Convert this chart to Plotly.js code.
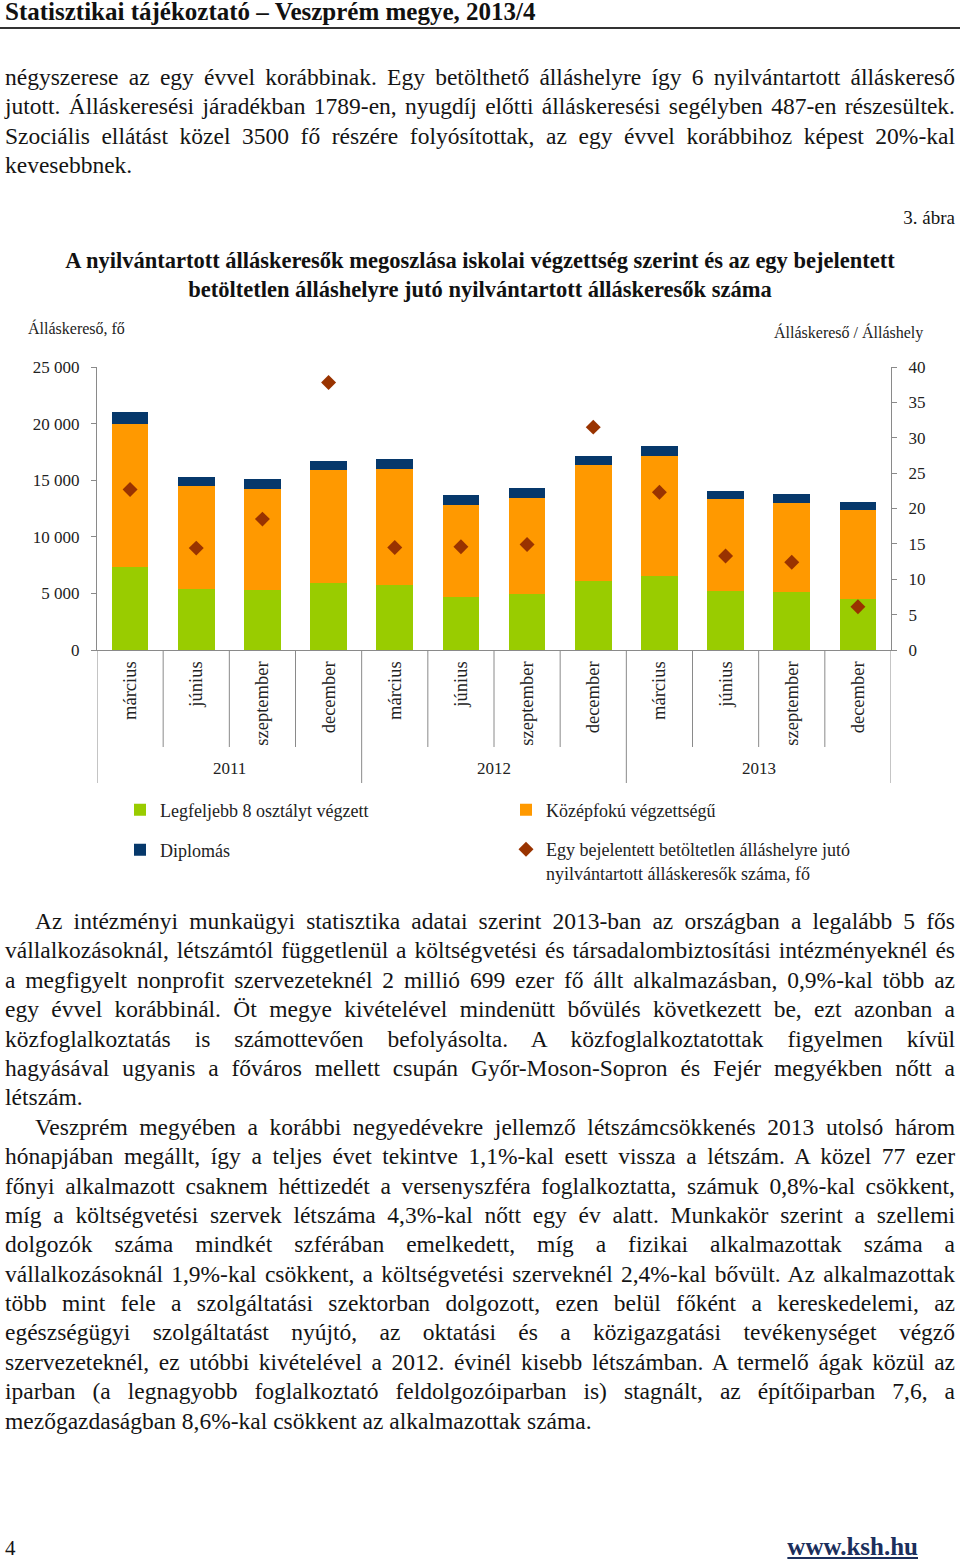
<!DOCTYPE html>
<html><head><meta charset="utf-8">
<script src="https://cdn.plot.ly/plotly-3.0.1.min.js"></script>
<style>
html,body{margin:0;padding:0;background:#fff;}
body{width:960px;height:1562px;position:relative;overflow:hidden;font-family:"Liberation Serif",serif;color:#141414;}
#hdr{position:absolute;left:5px;top:-2px;font-weight:bold;font-size:25px;line-height:28px;white-space:nowrap;color:#111}
#rule{position:absolute;left:0;top:27px;width:960px;height:2px;background:#333}
.para{position:absolute;left:5px;width:950px;font-size:23.5px;line-height:29.4px}
.ln{white-space:nowrap;height:29.4px;overflow:visible}
.ind{padding-left:30px}
#abra{position:absolute;right:5px;top:206px;font-size:19px;line-height:24px}
#chart{position:absolute;left:0;top:200px;width:960px;height:690px}
#pg{position:absolute;left:5px;top:1534px;font-size:21px;line-height:28px}
#ksh{position:absolute;right:42px;top:1533px;font-size:25px;line-height:28px;font-weight:bold;color:#1c2f5c;text-decoration:underline}
</style>
</head>
<body>
<div id="hdr">Statisztikai tájékoztató – Veszprém megye, 2013/4</div>
<div id="rule"></div>

<div class="para" style="top:63px">
<div class="ln j"><span>négyszerese az egy évvel korábbinak. Egy betölthető álláshelyre így 6 nyilvántartott álláskereső</span></div>
<div class="ln j"><span>jutott. Álláskeresési járadékban 1789-en, nyugdíj előtti álláskeresési segélyben 487-en részesültek.</span></div>
<div class="ln j"><span>Szociális ellátást közel 3500 fő részére folyósítottak, az egy évvel korábbihoz képest 20%-kal</span></div>
<div class="ln"><span>kevesebbnek.</span></div>
</div>

<div id="abra">3. ábra</div>
<div id="chart"></div>

<div class="para" style="top:907px">
<div class="ln j ind"><span>Az intézményi munkaügyi statisztika adatai szerint 2013-ban az országban a legalább 5 fős</span></div>
<div class="ln j"><span>vállalkozásoknál, létszámtól függetlenül a költségvetési és társadalombiztosítási intézményeknél és</span></div>
<div class="ln j"><span>a megfigyelt nonprofit szervezeteknél 2 millió 699 ezer fő állt alkalmazásban, 0,9%-kal több az</span></div>
<div class="ln j"><span>egy évvel korábbinál. Öt megye kivételével mindenütt bővülés következett be, ezt azonban a</span></div>
<div class="ln j"><span>közfoglalkoztatás is számottevően befolyásolta. A közfoglalkoztatottak figyelmen kívül</span></div>
<div class="ln j"><span>hagyásával ugyanis a főváros mellett csupán Győr-Moson-Sopron és Fejér megyékben nőtt a</span></div>
<div class="ln"><span>létszám.</span></div>
<div class="ln j ind"><span>Veszprém megyében a korábbi negyedévekre jellemző létszámcsökkenés 2013 utolsó három</span></div>
<div class="ln j"><span>hónapjában megállt, így a teljes évet tekintve 1,1%-kal esett vissza a létszám. A közel 77 ezer</span></div>
<div class="ln j"><span>főnyi alkalmazott csaknem héttizedét a versenyszféra foglalkoztatta, számuk 0,8%-kal csökkent,</span></div>
<div class="ln j"><span>míg a költségvetési szervek létszáma 4,3%-kal nőtt egy év alatt. Munkakör szerint a szellemi</span></div>
<div class="ln j"><span>dolgozók száma mindkét szférában emelkedett, míg a fizikai alkalmazottak száma a</span></div>
<div class="ln j"><span>vállalkozásoknál 1,9%-kal csökkent, a költségvetési szerveknél 2,4%-kal bővült. Az alkalmazottak</span></div>
<div class="ln j"><span>több mint fele a szolgáltatási szektorban dolgozott, ezen belül főként a kereskedelemi, az</span></div>
<div class="ln j"><span>egészségügyi szolgáltatást nyújtó, az oktatási és a közigazgatási tevékenységet végző</span></div>
<div class="ln j"><span>szervezeteknél, ez utóbbi kivételével a 2012. évinél kisebb létszámban. A termelő ágak közül az</span></div>
<div class="ln j"><span>iparban (a legnagyobb foglalkoztató feldolgozóiparban is) stagnált, az építőiparban 7,6, a</span></div>
<div class="ln"><span>mezőgazdaságban 8,6%-kal csökkent az alkalmazottak száma.</span></div>
</div>

<div id="pg">4</div>
<div id="ksh">www.ksh.hu</div>

<script>
// ---- data ----
const years = ['2011','2011','2011','2011','2012','2012','2012','2012','2013','2013','2013','2013'];
const months = ['március','június','szeptember','december','március','június','szeptember','december','március','június','szeptember','december'];
const legfeljebb8 = [7300, 5420, 5340, 5900, 5750, 4660, 4920, 6100, 6570, 5190, 5130, 4480];
const kozepfoku = [12690, 9030, 8900, 9960, 10200, 8190, 8520, 10200, 10610, 8110, 7900, 7930];
const diplomas = [1000, 855, 885, 855, 915, 825, 855, 855, 855, 740, 740, 650];
const allashelyrejuto = [22.7, 14.4, 18.5, 37.8, 14.5, 14.6, 14.9, 31.5, 22.3, 13.3, 12.4, 6.1];
const seriesNames = ['Legfeljebb 8 osztályt végzett','Középfokú végzettségű','Diplomás',
  'Egy bejelentett betöltetlen álláshelyre jutó<br>nyilvántartott álláskeresők száma, fő'];

// ---- justify text lines ----
document.querySelectorAll('.ln.j').forEach(el => {
  const sp = el.firstElementChild;
  const ind = el.classList.contains('ind') ? 30 : 0;
  const w = sp.getBoundingClientRect().width;
  const n = (sp.textContent.match(/ /g) || []).length;
  if (n > 0) sp.style.wordSpacing = ((950 - ind - w) / n) + 'px';
});

const FONT = '"Liberation Serif", serif';
const idx = months.map((_, i) => i);
const axisGray = '#8a8a8a';
const plotL = 97, plotW = 794, plotTop = 167, plotH = 283;  // px within chart div
const py = px => (plotTop + plotH - px) / plotH; // div px -> paper y
const pxx = px => (px - plotL) / plotW;          // div px -> paper x

const traces = [
  {type:'bar', x:idx, y:legfeljebb8, name:seriesNames[0], marker:{color:'#99CC00'}, legend:'legend'},
  {type:'bar', x:idx, y:kozepfoku, name:seriesNames[1], marker:{color:'#FF9900'}, legend:'legend2'},
  {type:'bar', x:idx, y:diplomas, name:seriesNames[2], marker:{color:'#06386B'}, legend:'legend3'},
  {type:'scatter', mode:'markers', x:idx, y:allashelyrejuto, yaxis:'y2', name:seriesNames[3],
   marker:{symbol:'diamond', size:11.5, color:'#993300'}, legend:'legend4'}
];

// separators below the category axis
const shapes = [];
for (let b = 0; b <= months.length; b++) {
  const yearBoundary = b === 0 || b === months.length || years[b] !== years[b - 1];
  shapes.push({type:'line', xref:'x', yref:'paper', x0:b - 0.5, x1:b - 0.5, y0:0,
    y1: yearBoundary ? py(583) : py(547), line:{color:axisGray, width:1}});
}

// year labels
const annotations = [];
[...new Set(years)].forEach(yr => {
  const ii = idx.filter(i => years[i] === yr);
  const c = (ii[0] + ii[ii.length - 1]) / 2;
  annotations.push({text:yr, xref:'x', x:c, yref:'paper', y:py(568), yanchor:'middle',
    showarrow:false, font:{family:FONT, size:17, color:'#222'}});
});
annotations.push({text:'Álláskereső, fő', xref:'paper', x:pxx(26), xanchor:'left',
  yref:'paper', y:py(128), yanchor:'middle', showarrow:false, font:{family:FONT, size:16, color:'#222'}});
annotations.push({text:'Álláskereső / Álláshely', xref:'paper', x:pxx(925), xanchor:'right',
  yref:'paper', y:py(132), yanchor:'middle', showarrow:false, font:{family:FONT, size:16, color:'#222'}});

const legendBase = {xref:'paper', yref:'paper', xanchor:'left', yanchor:'middle',
  bgcolor:'rgba(0,0,0,0)', font:{family:FONT, size:18, color:'#222'}, itemclick:false, itemdoubleclick:false};

const layout = {
  width:960, height:690,
  margin:{l:plotL, r:960 - plotL - plotW, t:plotTop, b:690 - plotTop - plotH, autoexpand:false},
  paper_bgcolor:'rgba(0,0,0,0)', plot_bgcolor:'rgba(0,0,0,0)',
  font:{family:FONT, size:17, color:'#222'},
  separators:', ',
  showlegend:true,
  barmode:'stack', bargap:0.445,
  title:{text:'A nyilvántartott álláskeresők megoszlása iskolai végzettség szerint és az egy bejelentett<br>betöltetlen álláshelyre jutó nyilvántartott álláskeresők száma',
    font:{family:FONT, size:22.5, weight:'bold', color:'#111'}, xref:'container', x:0.5, xanchor:'center',
    yref:'container', y:1 - 68 / 690, yanchor:'top'},
  xaxis:{range:[-0.5, 11.5], tickmode:'array', tickvals:idx, ticktext:months, tickangle:-90,
    ticks:'', showline:true, linecolor:axisGray, linewidth:1, showgrid:false, zeroline:false,
    ticklabelstandoff:3, tickfont:{family:FONT, size:18.5, color:'#222'}, fixedrange:true},
  yaxis:{range:[0, 25000], dtick:5000, tickformat:',d', ticks:'outside', ticklen:5, tickcolor:axisGray,
    showline:true, linecolor:axisGray, showgrid:false, zeroline:false, ticklabelstandoff:8,
    tickfont:{family:FONT, size:17, color:'#222'}, fixedrange:true},
  yaxis2:{range:[0, 40], dtick:5, overlaying:'y', side:'right', ticks:'outside', ticklen:5, tickcolor:axisGray,
    showline:true, linecolor:axisGray, showgrid:false, zeroline:false, ticklabelstandoff:8,
    tickfont:{family:FONT, size:17, color:'#222'}, fixedrange:true},
  legend: Object.assign({}, legendBase, {x:pxx(120), y:py(610)}),
  legend2: Object.assign({}, legendBase, {x:pxx(506), y:py(610)}),
  legend3: Object.assign({}, legendBase, {x:pxx(120), y:py(650)}),
  legend4: Object.assign({}, legendBase, {x:pxx(506), y:py(661), valign:'top'}),
  shapes: shapes,
  annotations: annotations
};

Plotly.newPlot('chart', traces, layout, {displayModeBar:false, staticPlot:true});
</script>
</body></html>
